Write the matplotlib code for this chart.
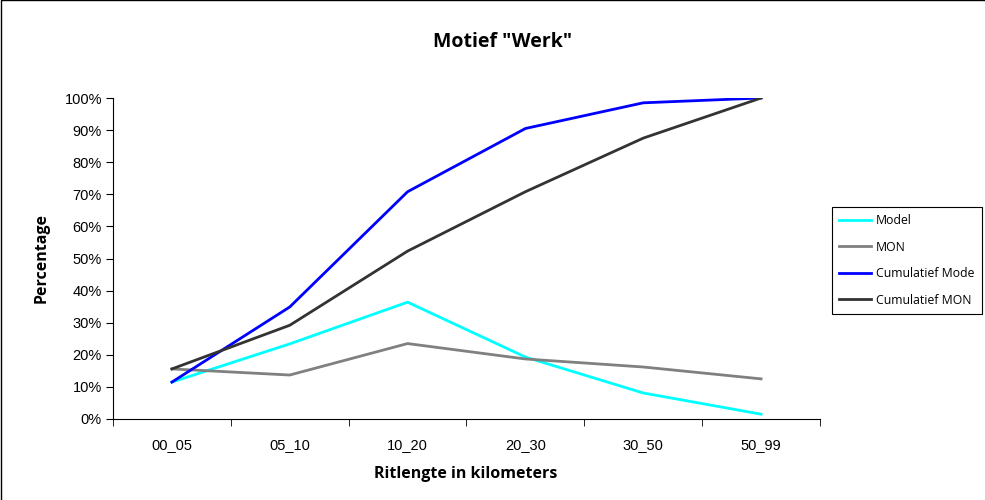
import matplotlib
matplotlib.use("Agg")
import matplotlib.pyplot as plt
from matplotlib.patches import Rectangle
from matplotlib.ticker import FixedLocator, PercentFormatter

# --- data ---
categories = ["00_05", "05_10", "10_20", "20_30", "30_50", "50_99"]
model = [0.115, 0.234, 0.364, 0.193, 0.081, 0.015]
mon = [0.156, 0.137, 0.235, 0.187, 0.162, 0.125]
cum_model = [0.115, 0.349, 0.708, 0.905, 0.985, 1.0]
cum_mon = [0.156, 0.292, 0.523, 0.708, 0.875, 1.0]

W, H = 985, 500
fig = plt.figure(figsize=(W / 100, H / 100), dpi=100)
ax = fig.add_axes([113 / W, 1 - 419 / H, (820 - 113) / W, (419 - 98) / H])

x = range(len(categories))
ax.plot(x, model, color="#00FFFF", lw=2, label="Model")
ax.plot(x, mon, color="#808080", lw=2, label="MON")
# label truncated in the original legend box
ax.plot(x, cum_model, color="#0000FF", lw=2, label="Cumulatief Mode")
ax.plot(x, cum_mon, color="#333333", lw=2, label="Cumulatief MON")

ax.set_xlim(-0.5, len(categories) - 0.5)
ax.set_ylim(0, 1)
ax.set_yticks([i / 10 for i in range(11)])
ax.yaxis.set_major_formatter(PercentFormatter(1.0, decimals=0))
ax.set_xticks(list(x))
ax.set_xticklabels(categories)
ax.xaxis.set_minor_locator(FixedLocator([i - 0.5 for i in range(len(categories) + 1)]))
ax.tick_params(axis="x", which="major", length=0, pad=14)
ax.tick_params(axis="x", which="minor", length=5, direction="out")
ax.tick_params(axis="y", length=5, direction="out", pad=3)
for lab in ax.get_xticklabels() + ax.get_yticklabels():
    lab.set_fontfamily("Liberation Sans")
    lab.set_fontsize(10.5)
for s in ("top", "right"):
    ax.spines[s].set_visible(False)

fig.text(503 / W, 1 - 42 / H, 'Motief "Werk"', ha="center", va="center",
         fontsize=14, fontweight="bold", family="Open Sans")
fig.text(466 / W, 1 - 474 / H, "Ritlengte in kilometers", ha="center", va="center",
         fontsize=11.5, fontweight="bold", family="Open Sans")
fig.text(42 / W, 1 - 258 / H, "Percentage", ha="center", va="center", rotation=90,
         fontsize=11.5, fontweight="bold", family="Open Sans")

leg = fig.legend(loc="upper left", bbox_to_anchor=(832 / W, 1 - 207 / H),
                 frameon=True, fancybox=False, edgecolor="black", framealpha=1,
                 prop={"family": "Open Sans", "size": 8.8}, handlelength=2.6,
                 handletextpad=0.4, labelspacing=1.1, borderpad=0.6,
                 borderaxespad=0)
leg.get_frame().set_linewidth(0.8)

# chart border
fig.patches.append(Rectangle((0.5 / W, -0.1), 1.2, 1.1 - 0.5 / H, transform=fig.transFigure,
                             fill=False, edgecolor="black", lw=1))

fig.savefig("out.png", dpi=100)
